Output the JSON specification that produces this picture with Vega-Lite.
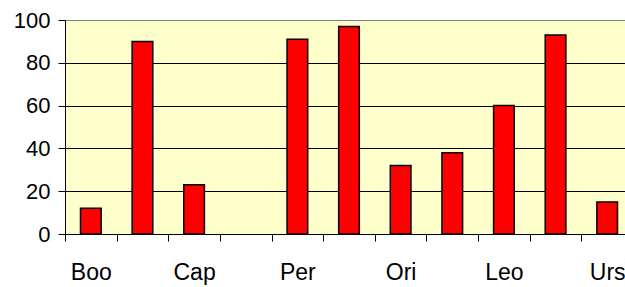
{
  "$schema": "https://vega.github.io/schema/vega-lite/v6.json",
  "width": 560,
  "height": 214,
  "autosize": {"type": "none"},
  "padding": {"left": 65, "top": 20, "right": 0, "bottom": 53},
  "background": "white",
  "config": {
    "view": {"fill": "#FFFFCC", "stroke": null},
    "font": "Liberation Sans"
  },
  "data": {
    "values": [
      {"shower": "Boo", "value": 12},
      {"shower": "Lyr", "value": 90},
      {"shower": "Cap", "value": 23},
      {"shower": "Aqr", "value": null},
      {"shower": "Per", "value": 91},
      {"shower": "Dra", "value": 97},
      {"shower": "Ori", "value": 32},
      {"shower": "Tau", "value": 38},
      {"shower": "Leo", "value": 60},
      {"shower": "Gem", "value": 93},
      {"shower": "Urs", "value": 15}
    ]
  },
  "mark": {"type": "bar", "color": "#FF0000", "stroke": "black", "strokeWidth": 1.5, "width": {"band": 0.4}},
  "encoding": {
    "x": {
      "field": "shower",
      "type": "nominal",
      "sort": null,
      "scale": {
        "domain": ["Boo", "Lyr", "Cap", "Aqr", "Per", "Dra", "Ori", "Tau", "Leo", "Gem", "Urs"],
        "range": [0, 568],
        "paddingInner": 0,
        "paddingOuter": 0
      },
      "axis": {
        "title": null,
        "tickBand": "extent",
        "domainColor": "black",
        "tickColor": "black",
        "tickSize": 7,
        "labelFontSize": 23,
        "labelColor": "black",
        "labelPadding": 20,
        "labelAngle": 0,
        "labelOverlap": false,
        "grid": false,
        "labelExpr": "indexof(['Boo','Cap','Per','Ori','Leo','Urs'], datum.value) >= 0 ? datum.label : ''"
      }
    },
    "y": {
      "field": "value",
      "type": "quantitative",
      "scale": {"domain": [0, 100], "nice": false},
      "axis": {
        "title": null,
        "values": [0, 20, 40, 60, 80, 100],
        "grid": true,
        "gridColor": {"condition": {"test": "datum.value === 100", "value": "#808080"}, "value": "black"},
        "gridWidth": 1,
        "domainColor": "black",
        "tickColor": "black",
        "tickSize": 7,
        "labelFontSize": 22,
        "labelColor": "black",
        "labelPadding": 8
      }
    }
  }
}
